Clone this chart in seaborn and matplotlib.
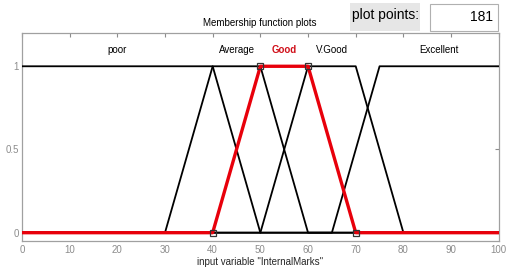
import matplotlib
matplotlib.use("Agg")
import matplotlib.pyplot as plt
import seaborn as sb
import numpy as np
import pandas as pd

# trapezoid membership functions [a, b, c, d] over input range 0..100
mf_names = ["poor", "Average", "Good", "V.Good", "Excellent"]
mf_params = [
    [0, 0, 40, 50],
    [30, 40, 50, 60],
    [40, 50, 60, 70],
    [50, 60, 70, 80],
    [65, 75, 100, 100],
]
selected = "Good"
x_range = [0, 100]
x_ticks = [0, 10, 20, 30, 40, 50, 60, 70, 80, 90, 100]
y_ticks = [0, 0.5, 1]
y_tick_labels = ["0", "0.5", "1"]
plot_points = 181

sb.set_style("white")
plt.rcParams["font.family"] = ["Liberation Sans", "DejaVu Sans"]

fig = plt.figure(figsize=(5.1, 2.68), dpi=100)
ax = fig.add_axes([0.043, 0.1007, 0.935, 0.7762])

gray = "#8c8c8c"
for name, p in zip(mf_names, mf_params):
    a, b, c, d = p
    xs = [x_range[0], a, b, c, d, x_range[1]]
    # membership evaluated at the vertices
    ys = []
    for xv in xs:
        if xv < a or xv > d:
            ys.append(0.0)
        elif b <= xv <= c:
            ys.append(1.0)
        elif xv < b:
            ys.append((xv - a) / (b - a))
        else:
            ys.append((d - xv) / (d - c))
    df = pd.DataFrame({"x": xs, "y": ys})
    if name == selected:
        sb.lineplot(data=df, x="x", y="y", ax=ax, color="#e8000b", linewidth=2.4,
                    sort=False, estimator=None, zorder=4)
        ax.plot([a, b, c, d], [0, 1, 1, 0], linestyle="none", marker="s",
                markersize=5, markerfacecolor="none", markeredgecolor="#333333",
                markeredgewidth=0.9, zorder=5)
        color = "#d0101a"
        weight = "bold"
    else:
        sb.lineplot(data=df, x="x", y="y", ax=ax, color="black", linewidth=1.3,
                    sort=False, estimator=None, zorder=3)
        color = "black"
        weight = "normal"
    ax.text((b + c) / 2, 1.1, name, ha="center", va="center", fontsize=7,
            color=color, fontweight=weight)

ax.set_xlim(x_range)
ax.set_ylim(-0.05, 1.2)
ax.set_xticks(x_ticks)
ax.set_yticks(y_ticks)
ax.set_yticklabels(y_tick_labels)
ax.tick_params(axis="both", direction="in", length=3, width=0.8, color=gray,
               labelcolor=gray, labelsize=7, top=True, right=True, pad=3)
ax.tick_params(axis="y", pad=2)
for s in ax.spines.values():
    s.set_color("#a0a0a0")
    s.set_linewidth(0.9)
ax.set_xlabel('input variable "InternalMarks"', fontsize=7)
ax.set_ylabel("")
ax.xaxis.set_label_coords(0.5, -0.075)
ax.xaxis.label.set_va("top")

fig.text(0.51, 0.915, "Membership function plots", ha="center", va="center",
         fontsize=7, color="black")
fig.patches.append(plt.Rectangle((0.686, 0.885), 0.138, 0.105,
                                 transform=fig.transFigure, facecolor="#e6e6e6",
                                 edgecolor="none"))
fig.text(0.755, 0.945, "plot points:", ha="center", va="center", fontsize=10,
         color="black")
fig.patches.append(plt.Rectangle((0.843, 0.885), 0.133, 0.1,
                                 transform=fig.transFigure, facecolor="white",
                                 edgecolor="#b0b0b0", linewidth=0.8))
fig.text(0.966, 0.935, str(plot_points), ha="right", va="center", fontsize=10,
         color="black")

fig.savefig("out.png", dpi=100)
